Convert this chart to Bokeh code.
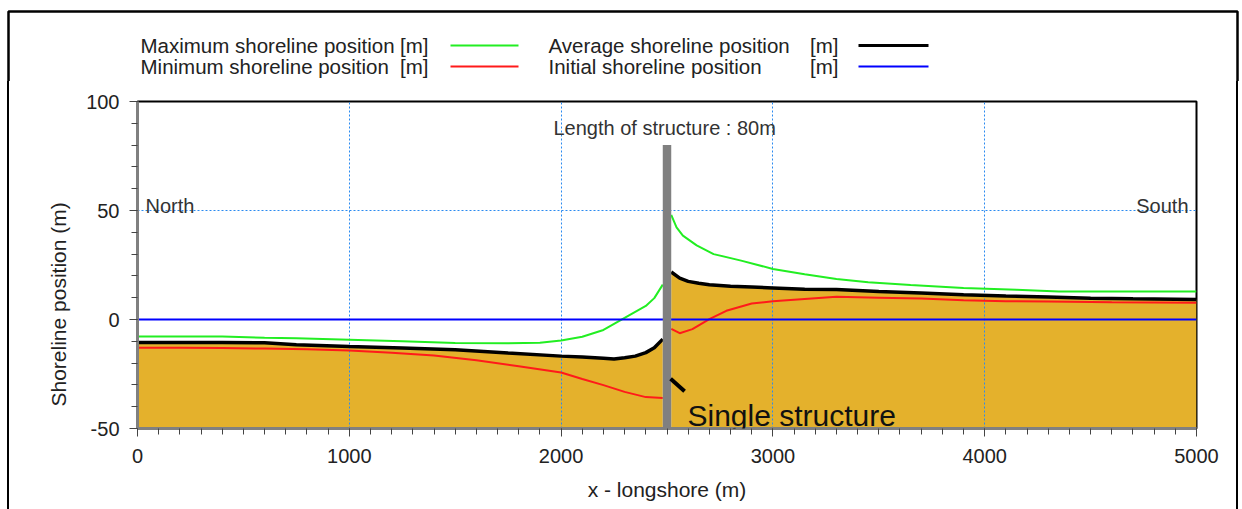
import math
from bokeh.plotting import figure
from bokeh.models import FixedTicker, Label, Range1d, Div, Title
from bokeh.layouts import column, row
from bokeh.core.properties import value
from bokeh.embed import file_html
from bokeh.resources import INLINE

# ---------------- data ----------------
x_ticks = [0, 1000, 2000, 3000, 4000, 5000]
y_ticks = [-50, 0, 50, 100]
y_bottom = -50

# north side of the structure (x < 2500)
x_avg_n = [0, 200, 400, 600, 750, 1000, 1250, 1500, 1750, 2000, 2100, 2200, 2250, 2300, 2350, 2400, 2440, 2480]
avg_n = [-10.5, -10.5, -10.6, -10.7, -11.6, -12.4, -13.1, -13.9, -15.4, -16.8, -17.2, -17.8, -18.1, -17.5, -16.8, -15.2, -13.0, -9.0]

x_max_n = [0, 200, 400, 600, 750, 1000, 1250, 1500, 1750, 1900, 2000, 2100, 2200, 2300, 2350, 2400, 2440, 2480]
max_n = [-7.8, -7.8, -7.8, -8.4, -8.6, -9.3, -10.0, -10.8, -10.9, -10.7, -9.6, -7.9, -4.8, 0.7, 3.5, 6.2, 9.8, 16.0]

x_min_n = [0, 200, 400, 600, 800, 1000, 1200, 1400, 1600, 1800, 2000, 2100, 2200, 2300, 2400, 2480]
min_n = [-13.0, -13.0, -13.1, -13.3, -13.6, -14.2, -15.2, -16.5, -18.7, -21.4, -24.3, -27.3, -30.1, -33.2, -35.6, -36.0]

# south side of the structure (x > 2500)
x_avg_s = [2520, 2560, 2600, 2650, 2700, 2800, 2900, 3000, 3150, 3300, 3500, 3700, 3900, 4100, 4300, 4500, 4700, 5000]
avg_s = [21.8, 19.0, 17.5, 16.6, 15.9, 15.3, 14.9, 14.5, 13.9, 13.8, 12.8, 12.2, 11.4, 10.8, 10.3, 9.8, 9.5, 9.2]

x_max_s = [2520, 2545, 2575, 2640, 2720, 2850, 3000, 3150, 3300, 3450, 3650, 3900, 4150, 4350, 4600, 5000]
max_s = [48.0, 42.3, 38.5, 34.0, 30.0, 27.0, 23.2, 20.8, 18.6, 17.1, 15.8, 14.5, 13.6, 12.9, 12.8, 12.8]

x_min_s = [2520, 2560, 2620, 2700, 2780, 2900, 3000, 3150, 3300, 3500, 3700, 3900, 4100, 4300, 4600, 5000]
min_s = [-4.3, -6.3, -4.4, 0.2, 4.0, 7.3, 8.4, 9.4, 10.4, 10.0, 9.6, 8.8, 8.4, 8.2, 7.9, 7.7]

x_init = [0, 5000]
init = [0, 0]

structure_x = [2500]
structure_top = [80]

pointer_x = [2517, 2583]
pointer_y = [-27.2, -32.9]

legend_labels = ["Maximum shoreline position", "Minimum shoreline position",
                 "Average shoreline position", "Initial shoreline position"]
legend_units = "[m]"

# ---------------- layout constants (canvas pixels) ----------------
W, H = 1242, 509
TOP_H = 81                   # legend strip height
LEFT_W = 20                  # strip holding the left picture border
RIGHT_W = 10                 # strip holding the right picture border
FL, FR, FT, FB = 137, 1196, 101, 428   # frame edges in canvas pixels
BORDER_L, BORDER_R, BORDER_T = 8, 1237, 11

FONT = "Liberation Sans"
TXT = "#222222"
GREEN, RED, BLACK, BLUE = "#22ee22", "#ff1a1a", "#000000", "#0000ff"


def dx(px):
    return (px - FL) / (FR - FL) * 5000


def dy(py):
    return -50 + (FB - py) / (FB - FT) * 150


# ---------------- legend strip ----------------
top = figure(width=W, height=TOP_H, x_range=Range1d(0, W), y_range=Range1d(TOP_H, 0),
             x_axis_type=None, y_axis_type=None, output_backend="svg",
             toolbar_location=None, min_border=0)
top.outline_line_color = None
top.background_fill_color = "white"
top.border_fill_color = "white"
top.xgrid.visible = False
top.ygrid.visible = False

leg_rows = [45, 66]
leg_text_x = [140, 140, 548, 548]
leg_unit_x = [428, 428, 838, 838]
leg_line_x0 = [450, 450, 858, 858]
leg_line_x1 = [518, 518, 928, 928]
leg_y = [leg_rows[0], leg_rows[1], leg_rows[0], leg_rows[1]]
leg_cols = [GREEN, RED, BLACK, BLUE]
leg_widths = [2, 2, 3, 2]
top.text(x=leg_text_x, y=leg_y, text=legend_labels, text_font=value(FONT),
         text_font_size=value("20.5px"), text_color=TXT, text_baseline="middle", text_align="left")
top.text(x=leg_unit_x, y=leg_y, text=[legend_units] * 4, text_font=value(FONT),
         text_font_size=value("20.5px"), text_color=TXT, text_baseline="middle", text_align="right")
top.segment(x0=leg_line_x0, y0=leg_y, x1=leg_line_x1, y1=leg_y, line_color=leg_cols, line_width=leg_widths)
top.multi_line(xs=[[BORDER_L, BORDER_L, BORDER_R, BORDER_R]], ys=[[TOP_H + 5, BORDER_T, BORDER_T, TOP_H + 5]],
               line_color="black", line_width=2.5)

# ---------------- side border strips ----------------
def border_div(w, pos):
    a, b = pos - 1.25, pos + 1.25
    return Div(width=w, height=H - TOP_H, margin=0,
               styles={"background": f"linear-gradient(to right, white {a}px, black {a}px, black {b}px, white {b}px)"})


left = border_div(LEFT_W, BORDER_L)
right = border_div(RIGHT_W, BORDER_R - (W - RIGHT_W))

# ---------------- main chart ----------------
main_w = W - LEFT_W - RIGHT_W
p = figure(width=main_w, height=H - TOP_H, x_range=(0, 5000), y_range=(-50, 100),
           output_backend="svg", toolbar_location=None,
           min_border_left=FL - LEFT_W, min_border_right=(W - RIGHT_W) - FR,
           min_border_top=FT - TOP_H, min_border_bottom=H - FB)
p.background_fill_color = "white"
p.border_fill_color = "white"
p.outline_line_color = "black"
p.outline_line_width = 2

p.xaxis.ticker = FixedTicker(ticks=x_ticks, minor_ticks=list(range(0, 5001, 100)))
p.yaxis.ticker = FixedTicker(ticks=y_ticks, minor_ticks=list(range(-50, 101, 10)))
p.yaxis.major_label_overrides = {t: str(t) for t in y_ticks}
for ax in (p.xaxis[0], p.yaxis[0]):
    ax.axis_line_color = "#808080"
    ax.axis_line_width = 3
    ax.major_tick_line_color = "#444444"
    ax.minor_tick_line_color = "#444444"
    ax.major_tick_in = 0
    ax.minor_tick_in = 0
    ax.major_tick_out = 8
    ax.minor_tick_out = 6
    ax.major_label_text_font = FONT
    ax.major_label_text_font_size = "20px"
    ax.major_label_text_color = TXT
p.xaxis.major_label_standoff = 12
p.yaxis.major_label_standoff = 10
p.xaxis.axis_label = "x - longshore (m)"
p.xaxis.axis_label_text_font = FONT
p.xaxis.axis_label_text_font_size = "21px"
p.xaxis.axis_label_text_font_style = "normal"
p.xaxis.axis_label_text_color = TXT
p.xaxis.axis_label_standoff = 12

# y-axis title (placed as a side title so it can sit below the frame centre like the original)
p.add_layout(Title(text="Shoreline position  (m)", align="left", offset=22, standoff=28,
                   text_font=FONT, text_font_size="21px", text_font_style="normal",
                   text_color=TXT), "left")

for g in (p.xgrid[0], p.ygrid[0]):
    g.grid_line_color = "#2a8af0"
    g.grid_line_dash = "2 2"
    g.grid_line_width = 1
    g.level = "underlay"

fill_col = "#E4B12C"
p.varea(x=x_avg_n, y1=y_bottom, y2=avg_n, fill_color=fill_col, level="image")
p.varea(x=x_avg_s, y1=y_bottom, y2=avg_s, fill_color=fill_col, level="image")

p.line(x_max_n, max_n, line_color=GREEN, line_width=2)
p.line(x_max_s, max_s, line_color=GREEN, line_width=2)
p.line(x_min_n, min_n, line_color=RED, line_width=2)
p.line(x_min_s, min_s, line_color=RED, line_width=2)
p.line(x_avg_n, avg_n, line_color=BLACK, line_width=3.5)
p.line(x_avg_s, avg_s, line_color=BLACK, line_width=3.5)
p.line(x_init, init, line_color=BLUE, line_width=2)

p.vbar(x=structure_x, width=40, bottom=y_bottom, top=structure_top, fill_color="#808080", line_color=None)
p.line(pointer_x, pointer_y, line_color="black", line_width=4)

p.add_layout(Label(x=dx(553), y=dy(127), text="Length of structure : 80m", text_font=FONT,
                   text_font_size="20px", text_color="#333333", text_baseline="alphabetic"))
p.add_layout(Label(x=dx(145), y=dy(205), text="North", text_font=FONT,
                   text_font_size="20px", text_color="#333333", text_baseline="alphabetic"))
p.add_layout(Label(x=dx(1188), y=dy(205), text="South", text_font=FONT, text_align="right",
                   text_font_size="20px", text_color="#333333", text_baseline="alphabetic"))
p.add_layout(Label(x=dx(687), y=dy(415), text="Single structure", text_font=FONT,
                   text_font_size="30px", text_color="#111111", text_baseline="alphabetic"))

layout = column(top, row(left, p, right))
open("out.html", "w").write(file_html(layout, INLINE))
